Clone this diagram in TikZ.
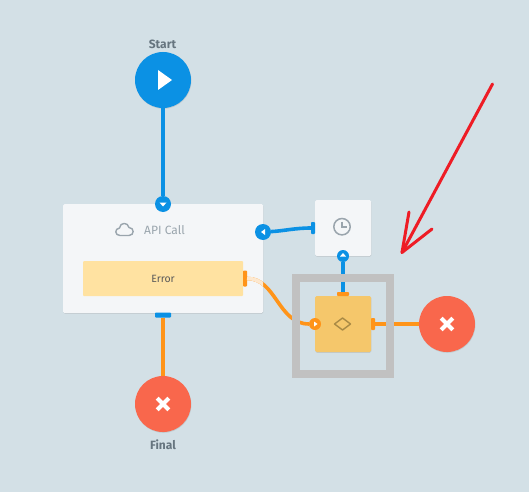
\documentclass[tikz,border=0pt]{standalone}
\usepackage{fontspec}
\setmainfont{Fira Sans}
\usetikzlibrary{shadows}
\definecolor{bgc}{HTML}{D3E0E6}
\definecolor{bluec}{HTML}{0B91E4}
\definecolor{orangec}{HTML}{FF9419}
\definecolor{tomatoc}{HTML}{F9674C}
\definecolor{cardc}{HTML}{F4F6F8}
\definecolor{errc}{HTML}{FFE2A1}
\definecolor{palec}{HTML}{FDE8CF}
\definecolor{decc}{HTML}{F5C76B}
\definecolor{framec}{HTML}{C1C1C1}
\definecolor{inkc}{HTML}{EE1C25}
\definecolor{labelc}{HTML}{66757F}
\definecolor{iconc}{HTML}{9AA5AD}
\definecolor{darkc}{HTML}{A98A45}
\tikzset{
  softshadow/.style={drop shadow={shadow xshift=0.4pt,shadow yshift=-0.8pt,opacity=0.18,fill=black!60}},
  bigcircle/.style={circle,minimum size=56pt,inner sep=0pt,outer sep=0pt,softshadow},
  card/.style={rectangle,rounded corners=1.5pt,fill=cardc,inner sep=0pt,outer sep=0pt,softshadow},
  portdot/.style={circle,inner sep=0pt,outer sep=0pt,fill=#1},
  porttab/.style={rectangle,inner sep=0pt,outer sep=0pt,fill=#1,rounded corners=0.8pt},
  wire/.style={line width=3.6pt,color=#1},
  glyph/.style={fill=white,draw=none},
  crossbar/.style={draw=white,line width=4.2pt},
  title/.style={font=\bfseries\fontsize{12}{14}\selectfont,text=labelc,inner sep=0pt},
  ink/.style={draw=inkc,line width=3pt,line cap=round,line join=round},
}
\begin{document}
\begin{tikzpicture}[x=1pt,y=-1pt]
\useasboundingbox (0,0) rectangle (529,492);
\fill[bgc] (0,0) rectangle (529,492);

% cards
\node[card,minimum width=200pt,minimum height=109pt] (api) at (163,258.5) {};
\node[rectangle,rounded corners=1pt,fill=errc,inner sep=0pt,minimum width=160pt,minimum height=35pt,
      font=\fontsize{10.5}{12}\selectfont,text=black!65] (err) at (163,278.5) {Error};
\node[card,minimum width=56pt,minimum height=56pt] (timer) at (343,228) {};
\node[card,fill=decc,minimum width=56pt,minimum height=56pt] (dec) at (343,324) {};

% big circles
\node[bigcircle,fill=bluec] (start) at (163,80) {};
\node[bigcircle,fill=tomatoc] (final) at (163,404) {};
\node[bigcircle,fill=tomatoc] (stop) at (447,324) {};

% labels
\node[title] (startlabel) at (162.5,44) {Start};
\node[title] (finallabel) at (163,444.5) {Final};
\node[inner sep=0pt,font=\fontsize{12}{14}\selectfont,text=iconc] (apilabel) at (164.5,230.5) {API Call};

% ports
\node[portdot=bluec,minimum size=16pt] (apitop) at (163,204) {};
\node[portdot=bluec,minimum size=16pt] (apiright) at (263,232) {};
\node[porttab=bluec,minimum width=16pt,minimum height=5pt] (apibottom) at (163,315) {};
\node[porttab=orangec,minimum width=4pt,minimum height=16pt] (errport) at (245,278.5) {};
\node[porttab=bluec,minimum width=4pt,minimum height=12pt] (timerleft) at (313,228) {};
\node[portdot=bluec,minimum size=12pt] (timerbottom) at (343,256) {};
\node[porttab=orangec,minimum width=12pt,minimum height=4pt] (dectop) at (343,294) {};
\node[portdot=orangec,minimum size=12pt] (decleft) at (315,324) {};
\node[porttab=orangec,minimum width=4pt,minimum height=12pt] (decright) at (373,324) {};

% connectors
\draw[wire=bluec] (start) -- (apitop);
\draw[wire=orangec] (apibottom) -- (final);
\draw[wire=bluec] (apiright) .. controls (283,231) and (295,228) .. (timerleft);
\draw[wire=bluec] (timerbottom) -- (dectop);
\draw[wire=orangec] (decright) -- (stop);
\draw[wire=orangec] (errport.east) .. controls (276,278) and (278,324) .. (decleft.west);
\begin{scope}
  \clip (api.north west) rectangle (api.south east);
  \draw[wire=palec] (errport.east) .. controls (276,278) and (278,324) .. (decleft.west);
\end{scope}

% port glyphs
\fill[glyph] (159.5,202.5) -- (166.5,202.5) -- (163,206.5) -- cycle;
\fill[glyph] (265,229) -- (265,235) -- (261,232) -- cycle;
\fill[glyph] (340,256.5) -- (346,256.5) -- (343,253) -- cycle;
\fill[glyph] (314,321.5) -- (314,326.5) -- (317.5,324) -- cycle;

% start / stop glyphs
\fill[glyph] (158,70) -- (172,80) -- (158,90) -- cycle;
\draw[crossbar] (157.2,398.2) -- (168.8,409.8) (168.8,398.2) -- (157.2,409.8);
\draw[crossbar] (441.2,318.2) -- (452.8,329.8) (452.8,318.2) -- (441.2,329.8);

% cloud icon
\draw[iconc,line width=1.4pt,line join=round]
  (120,235.5) .. controls (114.5,235.5) and (114.5,228.5) .. (119.5,228)
  .. controls (120,222) and (128,222) .. (129,227.5)
  .. controls (134.5,227.5) and (134.5,235.5) .. (129,235.5) -- cycle;

% clock icon
\draw[iconc,line width=1.5pt] (342,226.7) circle (8.2pt);
\draw[iconc,line width=1.3pt] (342,221.5) -- (342,227) -- (347,227);

% decision icon
\draw[darkc,line width=1.4pt,line join=round] (334.5,324) -- (342.5,318) -- (350.5,324) -- (342.5,330) -- cycle;

% selection frame
\node[draw=framec,line width=8pt,rectangle,inner sep=0pt,minimum width=94pt,minimum height=96pt] (frame) at (343,326) {};

% hand-drawn arrow
\coordinate (inktail) at (492.5,84);
\coordinate (inktip) at (402,252.5);
\coordinate (inkleft) at (409,212);
\coordinate (inkright) at (432,229);
\draw[ink] (inktail) -- (inktip);
\draw[ink] (inkleft) -- (inktip) -- (inkright);
\end{tikzpicture}
\end{document}
